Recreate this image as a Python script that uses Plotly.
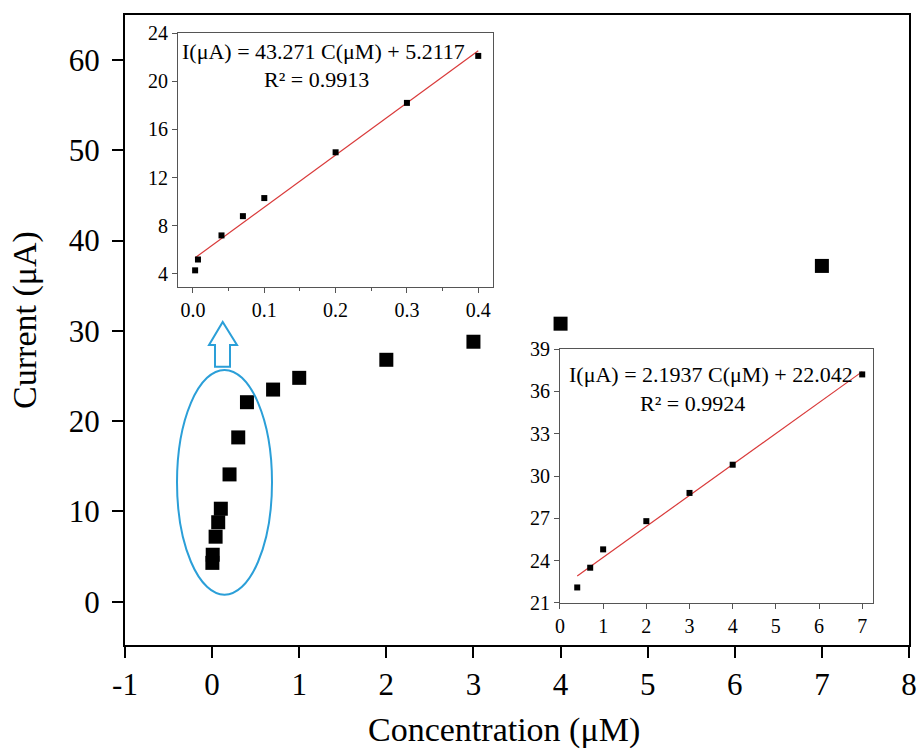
import plotly.graph_objects as go

# ---- data ----
conc = [0.003, 0.007, 0.04, 0.07, 0.1, 0.2, 0.3, 0.4, 0.7, 1, 2, 3, 4, 7]
current = [4.3, 5.2, 7.2, 8.8, 10.3, 14.1, 18.2, 22.1, 23.5, 24.8, 26.8, 28.8, 30.8, 37.2]

low_conc = [0.003, 0.007, 0.04, 0.07, 0.1, 0.2, 0.3, 0.4]
low_current = [4.3, 5.2, 7.2, 8.8, 10.3, 14.1, 18.2, 22.1]
low_slope, low_icpt = 43.271, 5.2117
low_fit_x = [0.003, 0.4]

high_conc = [0.4, 0.7, 1, 2, 3, 4, 7]
high_current = [22.1, 23.5, 24.8, 26.8, 28.8, 30.8, 37.2]
high_slope, high_icpt = 2.1937, 22.042
high_fit_x = [0.4, 7]

main_xticks = [-1, 0, 1, 2, 3, 4, 5, 6, 7, 8]
main_yticks = [0, 10, 20, 30, 40, 50, 60]
in1_xticks = [0.0, 0.1, 0.2, 0.3, 0.4]
in1_yticks = [4, 8, 12, 16, 20, 24]
in2_xticks = [0, 1, 2, 3, 4, 5, 6, 7]
in2_yticks = [21, 24, 27, 30, 33, 36, 39]

FONT = "Liberation Serif"
RED = "#d93a3a"
BLUE = "#2b9fd8"
FRAME = "#555555"

fig = go.Figure()

fig.add_trace(go.Scatter(x=conc, y=current, mode="markers",
                         marker=dict(symbol="square", size=14, color="black"),
                         xaxis="x", yaxis="y", showlegend=False))

fig.add_trace(go.Scatter(x=low_fit_x, y=[low_slope * v + low_icpt for v in low_fit_x],
                         mode="lines", line=dict(color=RED, width=1.2),
                         xaxis="x2", yaxis="y2", showlegend=False))
fig.add_trace(go.Scatter(x=low_conc, y=low_current, mode="markers",
                         marker=dict(symbol="square", size=6, color="black"),
                         xaxis="x2", yaxis="y2", showlegend=False))

fig.add_trace(go.Scatter(x=high_fit_x, y=[high_slope * v + high_icpt for v in high_fit_x],
                         mode="lines", line=dict(color=RED, width=1.2),
                         xaxis="x3", yaxis="y3", showlegend=False))
fig.add_trace(go.Scatter(x=high_conc, y=high_current, mode="markers",
                         marker=dict(symbol="square", size=6, color="black"),
                         xaxis="x3", yaxis="y3", showlegend=False))

main_ax = dict(showgrid=False, zeroline=False, showline=True, linecolor="black",
               linewidth=2, mirror=True, ticks="outside", ticklen=11, tickwidth=2,
               tickcolor="black", automargin=False,
               tickfont=dict(family=FONT, size=31, color="black"))

fig.update_layout(
    width=918, height=751,
    margin=dict(l=125, r=9, t=15, b=106),
    paper_bgcolor="white", plot_bgcolor="white",
    font=dict(family=FONT, color="black"),
    xaxis=dict(main_ax, range=[-1, 8], tickvals=main_xticks,
               ticktext=[str(v) for v in main_xticks], domain=[0, 1]),
    yaxis=dict(main_ax, range=[-4.8, 65], tickvals=main_yticks,
               ticktext=[str(v) for v in main_yticks], domain=[0, 1],
               ticklabelstandoff=6),
)

in_ax = dict(showgrid=False, zeroline=False, showline=True, linecolor=FRAME,
             linewidth=1, mirror=True, ticks="outside", ticklen=5, tickwidth=1,
             tickcolor=FRAME, automargin=False,
             tickfont=dict(family=FONT, size=20, color="black"))

fig.update_layout(
    xaxis2=dict(in_ax, domain=[0.0676, 0.4694], anchor="y2", range=[-0.021, 0.4207],
                tickvals=in1_xticks, ticktext=[f"{v:.1f}" for v in in1_xticks],
                minor=dict(ticks="outside", ticklen=3, tickcolor=FRAME, dtick=0.05,
                           tick0=0.05)),
    yaxis2=dict(in_ax, domain=[0.5683, 0.9714], anchor="x2", range=[2.92, 24],
                tickvals=in1_yticks),
    xaxis3=dict(in_ax, domain=[0.5548, 0.9541], anchor="y3", range=[0, 7.25],
                tickvals=in2_xticks),
    yaxis3=dict(in_ax, domain=[0.0667, 0.4698], anchor="x3", range=[21, 39],
                tickvals=in2_yticks),
)

title_font = dict(family=FONT, size=34, color="black")
fig.add_annotation(x=0.4834, y=-0.135, xref="paper", yref="paper", showarrow=False,
                   text="Concentration (μM)", font=title_font,
                   xanchor="center", yanchor="middle")
fig.add_annotation(x=-0.1276, y=0.516, xref="paper", yref="paper", showarrow=False,
                   text="Current (μA)", font=title_font, textangle=-90,
                   xanchor="center", yanchor="middle")

ann_font = dict(family=FONT, size=22, color="black")
fig.add_annotation(x=0.1834, y=22.5, xref="x2", yref="y2", showarrow=False,
                   text=f"I(μA) = {low_slope} C(μM) + {low_icpt}", font=ann_font,
                   xanchor="center", yanchor="middle")
fig.add_annotation(x=0.1736, y=20.17, xref="x2", yref="y2", showarrow=False,
                   text="R² = 0.9913", font=ann_font, xanchor="center", yanchor="middle")
fig.add_annotation(x=3.5, y=37.16, xref="x3", yref="y3", showarrow=False,
                   text=f"I(μA) = {high_slope} C(μM) + {high_icpt}", font=ann_font,
                   xanchor="center", yanchor="middle")
fig.add_annotation(x=3.06, y=35.17, xref="x3", yref="y3", showarrow=False,
                   text="R² = 0.9924", font=ann_font, xanchor="center", yanchor="middle")

# ellipse around low-concentration points
fig.add_shape(type="circle", xref="x", yref="y", x0=-0.403, x1=0.6875, y0=0.775, y1=25.68,
              line=dict(color=BLUE, width=2))
# hollow arrow pointing to inset
fig.add_shape(type="path", xref="x", yref="y",
              path="M 0.033 26.02 L 0.2054 26.02 L 0.2054 28.45 L 0.2857 28.45 "
                   "L 0.1216 31.0 L -0.0357 28.45 L 0.033 28.45 Z",
              line=dict(color=BLUE, width=2), fillcolor="rgba(0,0,0,0)")

fig.write_html("out.html",
               config={"displayModeBar": False},
               post_script="document.body.style.margin='0';"
                           "document.body.style.overflow='hidden';")
